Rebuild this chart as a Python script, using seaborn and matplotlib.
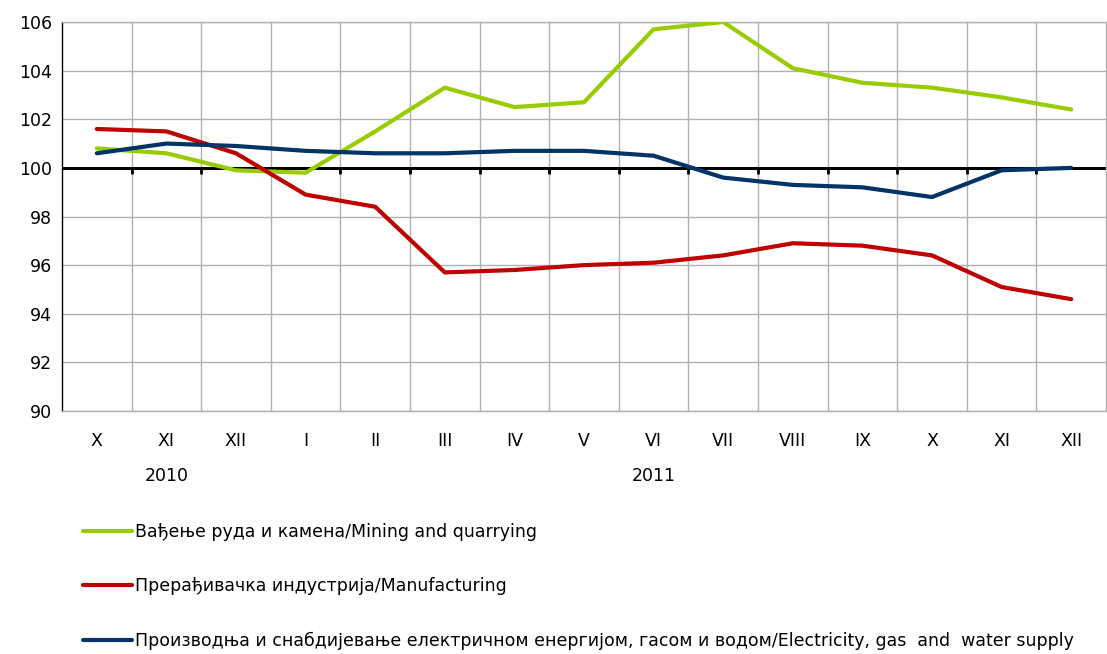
import pandas as pd
import numpy as np
import matplotlib
matplotlib.use("Agg")
import matplotlib.pyplot as plt
import seaborn as sns

months = ["X", "XI", "XII", "I", "II", "III", "IV", "V", "VI", "VII", "VIII", "IX", "X", "XI", "XII"]
years = ["2010", "2011"]
year_pos = [1, 8]

mining = [100.8, 100.6, 99.9, 99.8, 101.5, 103.3, 102.5, 102.7, 105.7, 106.0, 104.1, 103.5, 103.3, 102.9, 102.4]
manufacturing = [101.6, 101.5, 100.6, 98.9, 98.4, 95.7, 95.8, 96.0, 96.1, 96.4, 96.9, 96.8, 96.4, 95.1, 94.6]
electricity = [100.6, 101.0, 100.9, 100.7, 100.6, 100.6, 100.7, 100.7, 100.5, 99.6, 99.3, 99.2, 98.8, 99.9, 100.0]

labels = [
    "Вађење руда и камена/Mining and quarrying",
    "Прерађивачка индустрија/Manufacturing",
    "Производња и снабдијевање електричном енергијом, гасом и водом/Electricity, gas  and  water supply",
]
colors = ["#99CC00", "#C00000", "#003366"]

idx = np.arange(len(months))
df = pd.concat([
    pd.DataFrame({"pos": idx, "value": mining, "series": labels[0]}),
    pd.DataFrame({"pos": idx, "value": manufacturing, "series": labels[1]}),
    pd.DataFrame({"pos": idx, "value": electricity, "series": labels[2]}),
])

sns.set_style("white")
plt.rcParams["font.family"] = ["DejaVu Sans"]
plt.rcParams["text.color"] = "black"
plt.rcParams["xtick.color"] = "black"
plt.rcParams["ytick.color"] = "black"
plt.rcParams["xtick.labelcolor"] = "black"
plt.rcParams["ytick.labelcolor"] = "black"

fs = 12.5

fig = plt.figure(figsize=(11.07, 6.54), dpi=100)
ax = fig.add_axes([62 / 1107, 1 - 411 / 654, 1044 / 1107, 389 / 654])

sns.lineplot(data=df, x="pos", y="value", hue="series", palette=colors,
             linewidth=3.0, ax=ax, legend=True, zorder=3)

ax.set_xlim(-0.5, len(months) - 0.5)
ax.set_ylim(90, 106)
ax.set_yticks(np.arange(90, 107, 2))
ax.set_xticks(idx)
ax.set_xticklabels(months, fontsize=fs)
ax.set_xticks(np.arange(0.5, len(months) - 1, 1), minor=True)
ax.tick_params(axis="x", which="both", length=0, pad=15)
ax.tick_params(axis="y", length=4, width=1, direction="out", color="black", labelsize=fs, pad=3)
ax.set_xlabel("")
ax.set_ylabel("")

ax.grid(axis="y", which="major", color="#B0B0B0", lw=1)
ax.grid(axis="x", which="minor", color="#B0B0B0", lw=1)
ax.set_axisbelow(True)

for s in ["top", "right", "bottom"]:
    ax.spines[s].set_color("#B0B0B0")
    ax.spines[s].set_linewidth(1)
ax.spines["left"].set_color("black")
ax.spines["left"].set_linewidth(1)

ax.axhline(100, color="black", lw=2.2, zorder=2)
ax.vlines(np.arange(0.5, len(months) - 1, 1), 99.75, 100, color="black", lw=2, zorder=2)

for yr, p in zip(years, year_pos):
    ax.text(p, -0.166, yr, transform=ax.get_xaxis_transform(), ha="center", va="center", fontsize=fs)

handles, labs = ax.get_legend_handles_labels()
ax.get_legend().remove()
fig.legend(handles, labs, loc="upper left", bbox_to_anchor=(76 / 1107, 1 - 516 / 654),
           frameon=False, fontsize=fs, handlelength=2.8, handletextpad=0.2,
           labelspacing=2.1, borderaxespad=0)

fig.savefig("out.png", dpi=100)
